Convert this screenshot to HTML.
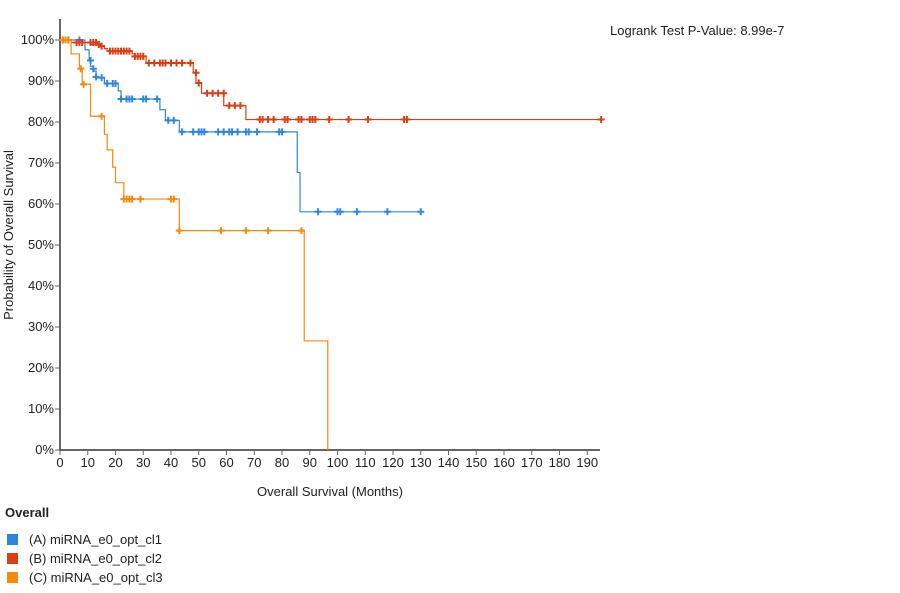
<!DOCTYPE html>
<html><head><meta charset="utf-8"><style>
body{margin:0;background:#fff;font-family:"Liberation Sans",Arial,sans-serif;}
svg text{font-family:"Liberation Sans",Arial,sans-serif;fill:#222;}
</style></head><body>
<svg id="chart" width="900" height="588"></svg>
<script>
const seriesNames=["(A) miRNA_e0_opt_cl1","(B) miRNA_e0_opt_cl2","(C) miRNA_e0_opt_cl3"];
const seriesColors=["#2e86de","#db3e12","#f7890c"];
const stepsA=[[0,100],[9,97.6],[10.5,95.2],[11,93.6],[12,92.4],[13,90.8],[16,89.4],[21,87.6],[22,85.6],[36,83],[38,80.4],[43,77.6],[85.5,67.7],[86.5,58.1]];
const endA=130;
const censA=[[7,100],[11,95],[12,93],[13,91],[15,90.8],[17,89.4],[19,89.4],[20,89.4],[22,85.6],[24,85.6],[25,85.6],[26,85.6],[30,85.6],[31,85.6],[35,85.6],[39,80.4],[41,80.4],[44,77.6],[48,77.6],[50,77.6],[51,77.6],[52,77.6],[57,77.6],[59,77.6],[61,77.6],[62,77.6],[64,77.6],[67,77.6],[68,77.6],[71,77.6],[79,77.6],[80,77.6],[93,58.1],[100,58.1],[101,58.1],[107,58.1],[118,58.1],[130,58.1]];
const stepsB=[[0,100],[4,99.4],[11,98.9],[14,98.5],[16,97.9],[17,97.3],[26,96.6],[27,96],[31,94.4],[48,92],[49,89.5],[51,87],[59,84],[67,80.6]];
const endB=195;
const censB=[[1,100],[2,100],[3,100],[6,99.4],[7,99.4],[8,99.4],[11,99.4],[12,99.4],[13,99.4],[14,98.9],[15,98.5],[18,97.3],[19,97.3],[20,97.3],[21,97.3],[22,97.3],[23,97.3],[24,97.3],[25,97.3],[27,96],[28,96],[29,96],[30,96],[32,94.4],[34,94.4],[36,94.4],[37,94.4],[38,94.4],[40,94.4],[42,94.4],[44,94.4],[47,94.4],[49,92],[50,89.5],[53,87],[55,87],[57,87],[59,87],[61,84],[63,84],[65,84],[72,80.6],[73,80.6],[75,80.6],[77,80.6],[81,80.6],[82,80.6],[86,80.6],[87,80.6],[90,80.6],[91,80.6],[92,80.6],[97,80.6],[104,80.6],[111,80.6],[124,80.6],[125,80.6],[195,80.6]];
const stepsC=[[0,100],[4,96.6],[7,93],[8,89.2],[11,81.4],[16,77],[17,73.2],[19,69],[20,65.2],[23,61.2],[43,53.5],[88,26.6],[96.5,0]];
const endC=96.5;
const censC=[[1,100],[2,100],[3,100],[7.5,93],[8.5,89.2],[15,81.4],[23,61.2],[24,61.2],[25,61.2],[26,61.2],[29,61.2],[40,61.2],[41,61.2],[43,53.5],[58,53.5],[67,53.5],[75,53.5],[87,53.5]];
const xTicks=[0,10,20,30,40,50,60,70,80,90,100,110,120,130,140,150,160,170,180,190];
const yTicks=[0,10,20,30,40,50,60,70,80,90,100];

const NS="http://www.w3.org/2000/svg";
const svg=document.getElementById('chart');
const X=m=>60+m*2.775;
const Y=p=>450-p*4.1;
function el(t,a,parent){const e=document.createElementNS(NS,t);for(const k in a)e.setAttribute(k,a[k]);(parent||svg).appendChild(e);return e;}

// axes
let ax=el('line',{x1:60,y1:19,x2:60,y2:450,stroke:'#666','stroke-width':2});


ax=el('line',{x1:59,y1:450,x2:600,y2:450,stroke:'#666','stroke-width':2});


yTicks.forEach(v=>{
  el('line',{x1:55,x2:60,y1:Y(v),y2:Y(v),stroke:'#666','stroke-width':1});
  const t=el('text',{x:54,y:Y(v)+4,'text-anchor':'end','font-size':13});t.textContent=v+'%';
  
  
});
xTicks.forEach(v=>{
  el('line',{x1:X(v),x2:X(v),y1:450,y2:455,stroke:'#666','stroke-width':1});
  const t=el('text',{x:X(v),y:467,'text-anchor':'middle','font-size':13});t.textContent=v;
  
  
});
let t=el('text',{x:330,y:496,'text-anchor':'middle','font-size':13});t.textContent='Overall Survival (Months)';


t=el('text',{x:0,y:0,'text-anchor':'middle','font-size':13,transform:'translate(13,235) rotate(-90)'});t.textContent='Probability of Overall Survival';


t=el('text',{x:610,y:35,'font-size':13});t.textContent='Logrank Test P-Value: 8.99e-7';



function drawSeries(steps,end,cens,color,name){
  let d='M'+X(steps[0][0])+','+Y(steps[0][1]);
  for(let i=1;i<steps.length;i++){d+=' H'+X(steps[i][0])+' V'+Y(steps[i][1]);}
  d+=' H'+X(end);
  const p=el('path',{d:d,fill:'none',stroke:color,'stroke-width':1.2});
  
  
  cens.forEach(c=>{
    const x=X(c[0]),y=Y(c[1]);
    const g=el('path',{d:`M${x-3.5},${y} H${x+3.5} M${x},${y-3.5} V${y+3.5}`,stroke:color,'stroke-width':2});
    
    
  });
}
drawSeries(stepsA,endA,censA,seriesColors[0],'series-a');
drawSeries(stepsB,endB,censB,seriesColors[1],'series-b');
drawSeries(stepsC,endC,censC,seriesColors[2],'series-c');

t=el('text',{x:5,y:517,'font-size':13,'font-weight':'bold'});t.textContent='Overall';


seriesNames.forEach((n,i)=>{
  const y=540+i*19;
  const r=el('rect',{x:7,y:y-6,width:11,height:11,fill:seriesColors[i]});
  
  
  const tx=el('text',{x:29,y:y+4,'font-size':13});tx.textContent=n;
  
  
});
</script>
</body></html>
